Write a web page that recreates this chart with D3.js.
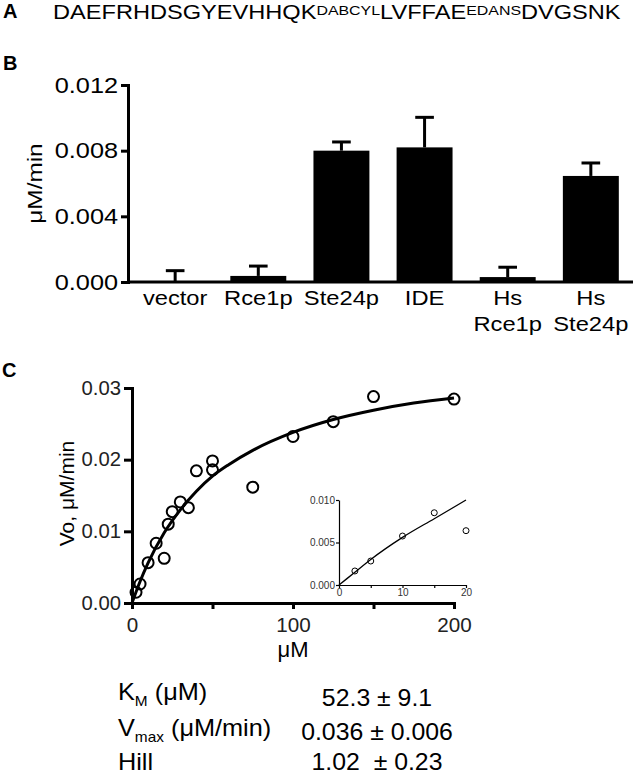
<!DOCTYPE html>
<html>
<head>
<meta charset="utf-8">
<script src="https://cdn.jsdelivr.net/npm/d3@7"></script>
<style>
  body { margin: 0; background: #fff; }
  svg { display: block; font-family: "Liberation Sans", Arial, sans-serif; }
  text { white-space: pre; }
</style>
</head>
<body>
<script>
// panel B: activity per enzyme
var catsB = ["vector", "Rce1p", "Ste24p", "IDE", "Hs Rce1p", "Hs Ste24p"];
var rateB = [0.00005, 0.00037, 0.0080, 0.0082, 0.0003, 0.00646];
var errB  = [0.00064, 0.0006, 0.00053, 0.00183, 0.0006, 0.00079];
var ticksB = [0, 0.004, 0.008, 0.012];

// panel C: substrate curve
var conc = [2.5, 5, 10, 15, 20, 22.5, 25, 30, 35, 40, 50, 50, 75, 100, 125, 150, 200];
var vo   = [0.0015, 0.00265, 0.00563, 0.00834, 0.00624, 0.0110, 0.01275, 0.0141, 0.0133,
            0.01844, 0.01983, 0.01858, 0.01616, 0.02323, 0.0253, 0.0288, 0.02845];
var fitConc = [0, 5, 10, 20, 30, 40, 50, 60, 75, 100, 125, 150, 175, 200];
var fitVo   = [0, 0.0030, 0.0056, 0.0098, 0.0130, 0.0156, 0.0177, 0.0193, 0.0213, 0.0238,
               0.0256, 0.0269, 0.0279, 0.0286];
var ticksCy = [0, 0.01, 0.02, 0.03];
var ticksCx = [0, 50, 100, 150, 200];

// inset (low concentrations)
var insetConc = [2.5, 5, 10, 15, 20];
var insetVo   = [0.00165, 0.00282, 0.00576, 0.0085, 0.00639];
var insetFitConc = [0, 2.5, 5, 10, 15, 20];
var insetFitVo   = [0, 0.0015, 0.0030, 0.0056, 0.0078, 0.0100];

// fit parameters table
var paramNames = [["K", "M", " (μM)"], ["V", "max", " (μM/min)"], ["Hill", "", ""]];
var paramValues = ["52.3 ± 9.1", "0.036 ± 0.006", "1.02  ± 0.23"];

var svg = d3.select("body").append("svg")
    .attr("width", 633)
    .attr("height", 776);

// the figure's type is set wide; stretch a text horizontally about its x
function widen(sel, k) {
  sel.attr("transform", function() {
    var x = +this.getAttribute("x") || 0;
    return "translate(" + (x * (1 - k)) + ",0) scale(" + k + ",1)";
  });
}

// panel letters
[["A", 3, 18], ["B", 3, 70], ["C", 2, 377]].forEach(function(d) {
  svg.append("text").attr("x", d[1]).attr("y", d[2])
    .attr("font-size", 20).attr("font-weight", "bold").text(d[0]);
});

// ---- A: peptide sequence
var seq = svg.append("text")
    .attr("transform", "translate(53,18.5) scale(1.18,1)")
    .attr("font-size", 20);
seq.append("tspan").text("DAEFRHDSGYEVHHQK");
seq.append("tspan").attr("font-size", 13.5).attr("dy", -4).text("DABCYL");
seq.append("tspan").attr("dy", 4).text("LVFFAE");
seq.append("tspan").attr("font-size", 13.5).attr("dy", -4).text("EDANS");
seq.append("tspan").attr("dy", 4).text("DVGSNK");

// ---- B: bar chart
var xB = d3.scaleBand().domain(catsB).range([120, 646]).padding(0.327);
var yB = d3.scaleLinear().domain([0, 0.012]).range([282, 85]);
var axisXB = 128;

var gB = svg.append("g");

gB.selectAll("rect.bar")
  .data(catsB)
  .enter().append("rect")
    .attr("class", "bar")
    .attr("x", function(d) { return xB(d); })
    .attr("width", xB.bandwidth())
    .attr("y", function(d, i) { return yB(rateB[i]); })
    .attr("height", function(d, i) { return yB(0) - yB(rateB[i]); })
    .attr("fill", "#000");

var capW = xB.bandwidth() / 3;
var eb = gB.selectAll("g.err")
  .data(catsB)
  .enter().append("g")
    .attr("class", "err")
    .attr("stroke", "#000")
    .attr("stroke-width", 3);
eb.append("line")
    .attr("x1", function(d) { return xB(d) + xB.bandwidth() / 2; })
    .attr("x2", function(d) { return xB(d) + xB.bandwidth() / 2; })
    .attr("y1", function(d, i) { return yB(rateB[i]); })
    .attr("y2", function(d, i) { return yB(rateB[i] + errB[i]); });
eb.append("line")
    .attr("x1", function(d) { return xB(d) + xB.bandwidth() / 2 - capW / 2; })
    .attr("x2", function(d) { return xB(d) + xB.bandwidth() / 2 + capW / 2; })
    .attr("y1", function(d, i) { return yB(rateB[i] + errB[i]); })
    .attr("y2", function(d, i) { return yB(rateB[i] + errB[i]); });

// x baseline
gB.append("line")
    .attr("x1", axisXB).attr("x2", 633)
    .attr("y1", yB(0)).attr("y2", yB(0))
    .attr("stroke", "#000").attr("stroke-width", 3);

var yAxisB = gB.append("g")
    .attr("transform", "translate(" + axisXB + ",0)")
    .call(d3.axisLeft(yB).tickValues(ticksB).tickFormat(d3.format(".3f"))
      .tickSize(7).tickSizeOuter(0).tickPadding(3));
yAxisB.selectAll("path, line").attr("stroke", "#000").attr("stroke-width", 3);
yAxisB.selectAll("text").attr("font-size", 22).attr("fill", "#000")
    .attr("font-family", "Liberation Sans, Arial, sans-serif");
yAxisB.select(".domain").attr("stroke-linecap", "square");
widen(yAxisB.selectAll("text"), 1.15);

// category labels (split on space into lines)
catsB.forEach(function(c) {
  var lines = c.split(" ");
  lines.forEach(function(l, j) {
    var cx = xB(c) + xB.bandwidth() / 2;
    svg.append("text")
      .attr("transform", "translate(" + cx + "," + (305 + j * 26) + ") scale(1.13,1)")
      .attr("text-anchor", "middle")
      .attr("font-size", 21)
      .text(l);
  });
});

svg.append("text")
    .attr("transform", "translate(42," + ((yB(0) + yB(0.012)) / 2) + ") rotate(-90) scale(1.16,1)")
    .attr("text-anchor", "middle")
    .attr("font-size", 21)
    .text("μM/min");

// ---- C: kinetics curve
var xC = d3.scaleLinear().domain([0, 200]).range([132, 454]);
var yC = d3.scaleLinear().domain([0, 0.03]).range([603, 388]);
var gC = svg.append("g");

var line = d3.line()
    .x(function(d) { return xC(d[0]); })
    .y(function(d) { return yC(d[1]); })
    .curve(d3.curveMonotoneX);

gC.append("path")
    .datum(d3.zip(fitConc, fitVo))
    .attr("d", line)
    .attr("fill", "none")
    .attr("stroke", "#000")
    .attr("stroke-width", 3);

gC.selectAll("circle")
  .data(d3.zip(conc, vo))
  .enter().append("circle")
    .attr("cx", function(d) { return xC(d[0]); })
    .attr("cy", function(d) { return yC(d[1]); })
    .attr("r", 5.5)
    .attr("fill", "none")
    .attr("stroke", "#000")
    .attr("stroke-width", 2);

var yAxisC = gC.append("g")
    .attr("transform", "translate(" + xC(0) + ",0)")
    .call(d3.axisLeft(yC).tickValues(ticksCy).tickFormat(d3.format(".2f"))
      .tickSize(8).tickSizeOuter(0).tickPadding(3));
var xAxisC = gC.append("g")
    .attr("transform", "translate(0," + yC(0) + ")")
    .call(d3.axisBottom(xC).tickValues(ticksCx)
      .tickFormat(function(d) { return d % 100 === 0 ? d : ""; })
      .tickSize(6).tickSizeOuter(0).tickPadding(9));
[yAxisC, xAxisC].forEach(function(a) {
  a.selectAll("path, line").attr("stroke", "#000").attr("stroke-width", 3);
  a.select(".domain").attr("stroke-linecap", "square");
  a.selectAll("text").attr("font-size", 19.5).attr("fill", "#222")
    .attr("font-family", "Liberation Sans, Arial, sans-serif");
});
widen(yAxisC.selectAll("text"), 1.04);
widen(xAxisC.selectAll("text"), 1.06);

svg.append("text")
    .attr("x", (xC(0) + xC(200)) / 2).attr("y", 657)
    .attr("text-anchor", "middle")
    .attr("font-size", 22)
    .text("μM");

svg.append("text")
    .attr("transform", "translate(74," + ((yC(0) + yC(0.03)) / 2 - 2) + ") rotate(-90)")
    .attr("text-anchor", "middle")
    .attr("font-size", 21)
    .text("Vo, μM/min");

// ---- inset
var xI = d3.scaleLinear().domain([0, 20]).range([339, 466]);
var yI = d3.scaleLinear().domain([0, 0.01]).range([585, 500]);
var gI = svg.append("g");

gI.append("path")
    .datum(d3.zip(insetFitConc, insetFitVo))
    .attr("d", d3.line()
      .x(function(d) { return xI(d[0]); })
      .y(function(d) { return yI(d[1]); })
      .curve(d3.curveMonotoneX))
    .attr("fill", "none")
    .attr("stroke", "#000")
    .attr("stroke-width", 1.3);

gI.selectAll("circle")
  .data(d3.zip(insetConc, insetVo))
  .enter().append("circle")
    .attr("cx", function(d) { return xI(d[0]); })
    .attr("cy", function(d) { return yI(d[1]); })
    .attr("r", 3)
    .attr("fill", "none")
    .attr("stroke", "#000")
    .attr("stroke-width", 1);

var yAxisI = gI.append("g")
    .attr("transform", "translate(" + xI(0) + ",0)")
    .call(d3.axisLeft(yI).tickValues([0, 0.005, 0.01]).tickFormat(d3.format(".3f"))
      .tickSize(3).tickSizeOuter(0).tickPadding(1));
var xAxisI = gI.append("g")
    .attr("transform", "translate(0," + yI(0) + ")")
    .call(d3.axisBottom(xI).tickValues([0, 5, 10, 15, 20])
      .tickFormat(function(d) { return d % 10 === 0 ? d : ""; })
      .tickSize(3).tickSizeOuter(0).tickPadding(1));
[yAxisI, xAxisI].forEach(function(a) {
  a.selectAll("path, line").attr("stroke", "#000").attr("stroke-width", 1.2);
  a.selectAll("text").attr("font-size", 10).attr("fill", "#333")
    .attr("font-family", "Liberation Sans, Arial, sans-serif");
});

// ---- fit parameters
var rowLabelY = [700, 736, 770];
var rowValueY = [706, 740, 770];
paramNames.forEach(function(p, i) {
  var t = svg.append("text")
      .attr("transform", "translate(118," + rowLabelY[i] + ") scale(1.1,1)")
      .attr("font-size", 23);
  t.append("tspan").text(p[0]);
  if (p[1]) {
    t.append("tspan").attr("font-size", 14).attr("dy", 6).text(p[1]);
    t.append("tspan").attr("dy", -6).text(p[2]);
  }
});
paramValues.forEach(function(v, i) {
  svg.append("text")
    .attr("transform", "translate(377," + rowValueY[i] + ") scale(1.08,1)")
    .attr("text-anchor", "middle")
    .attr("font-size", 23)
    .text(v);
});
</script>
</body>
</html>
